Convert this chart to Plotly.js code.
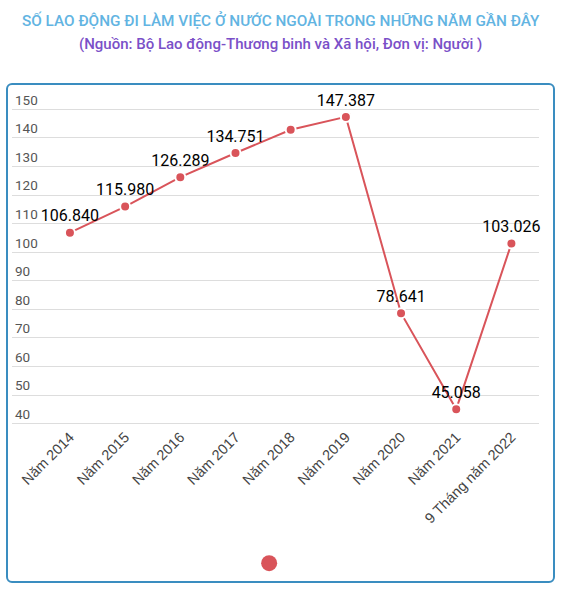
<!DOCTYPE html>
<html>
<head>
<meta charset="utf-8">
<script src="https://cdn.plot.ly/plotly-3.0.1.min.js"></script>
<style>
  body { margin: 0; background: #fff; }
  #wrap { position: relative; width: 566px; height: 604px; }
  #chart { width: 566px; height: 604px; }
  #frame {
    position: absolute; left: 6px; top: 83px; width: 545px; height: 496px;
    border: 2px solid #3a8dc0; border-radius: 6px; pointer-events: none;
  }
</style>
</head>
<body>
<div id="wrap">
  <div id="chart"></div>
  <div id="frame"></div>
</div>
<script>
// values in thousands of workers
const years = ["Năm 2014", "Năm 2015", "Năm 2016", "Năm 2017", "Năm 2018",
  "Năm 2019", "Năm 2020", "Năm 2021", "9 Tháng năm 2022"];
const workers = [106.840, 115.980, 126.289, 134.751, 142.860, 147.387, 78.641, 45.058, 103.026];
const pointLabels = ["106.840", "115.980", "126.289", "134.751", "", "147.387", "78.641", "45.058", "103.026"];

const red = "#d9545a";

const line = {
  x: years,
  y: workers,
  text: pointLabels,
  type: "scatter",
  mode: "lines+markers+text",
  textposition: "top center",
  textfont: { family: "Roboto, Arial, sans-serif", size: 16, color: "#000" },
  line: { color: red, width: 2 },
  marker: { color: red, size: 10, line: { color: "#fff", width: 2 } },
  showlegend: false,
  cliponaxis: false,
  hoverinfo: "x+y"
};

// legend entry: just the dot
const legendDot = {
  x: [null], y: [null],
  type: "scatter", mode: "markers",
  name: " ",
  marker: { color: red, size: 18 },
  showlegend: true
};

const layout = {
  width: 566,
  height: 604,
  margin: { l: 12, r: 27, t: 108, b: 179 },
  paper_bgcolor: "#fff",
  plot_bgcolor: "#fff",
  font: { family: "Roboto, Arial, sans-serif" },
  xaxis: {
    type: "category",
    range: [-1.05, 8.5],
    tickangle: -45,
    showgrid: false,
    zeroline: false,
    showline: false,
    ticks: "",
    tickfont: { family: "Liberation Sans, Arial, sans-serif", size: 14.5, color: "#444" }
  },
  yaxis: {
    range: [39.5, 150.5],
    tick0: 0,
    dtick: 10,
    gridcolor: "#dddddd",
    gridwidth: 1,
    zeroline: false,
    showline: false,
    ticklabelposition: "inside top",
    ticklabeloverflow: "allow",
    tickfont: { family: "Roboto, Arial, sans-serif", size: 13.5, color: "#555" }
  },
  showlegend: true,
  legend: {
    orientation: "h",
    x: 0.45, xanchor: "left",
    y: -0.436, yanchor: "middle",
    itemsizing: "trace",
    font: { size: 12 }
  },
  annotations: [
    {
      text: "SỐ LAO ĐỘNG ĐI LÀM VIỆC Ở NƯỚC NGOÀI TRONG NHỮNG NĂM GẦN ĐÂY",
      xref: "paper", yref: "paper", x: 0.51, y: 1.276,
      xanchor: "center", yanchor: "middle", showarrow: false,
      font: { family: "Roboto, Arial, sans-serif", size: 15.3, color: "#62b4e2", weight: 500 }
    },
    {
      text: "(Nguồn: Bộ Lao động-Thương binh và Xã hội, Đơn vị: Người )",
      xref: "paper", yref: "paper", x: 0.51, y: 1.202,
      xanchor: "center", yanchor: "middle", showarrow: false,
      font: { family: "Roboto, Arial, sans-serif", size: 15, color: "#7a50c8", weight: 500 }
    }
  ]
};

Plotly.newPlot("chart", [line, legendDot], layout, { displayModeBar: false, staticPlot: true });
</script>
</body>
</html>
